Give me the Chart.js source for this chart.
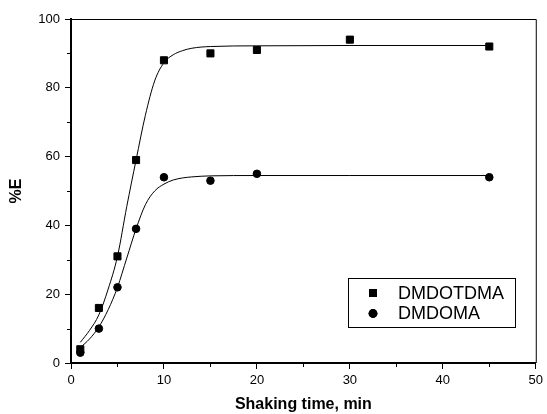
<!DOCTYPE html>
<html>
<head>
<meta charset="utf-8">
<script src="https://cdn.jsdelivr.net/npm/chart.js@4.4.1/dist/chart.umd.min.js"></script>
<style>
   html, body { margin: 0; padding: 0; background: #fff; }
</style>
</head>
<body>
<canvas id="myChart" width="547" height="414"></canvas>
<script>
// measured points
var timeA = [1, 3, 5, 7, 10, 15, 20, 30, 45];
var dmdotdma = [4, 16, 31, 59, 88, 90, 91, 94, 92];
var timeB = [1, 3, 5, 7, 10, 15, 20, 45];
var dmdoma = [3, 10, 22, 39, 54, 53, 55, 54];

// fitted curves
var fitTime = [1, 2, 3, 4, 5, 6, 7, 8, 9, 10, 11, 12, 13, 15, 20, 30, 45];
var fitDmdotdma = [6, 9.5, 14, 21.5, 31, 45.5, 59, 72, 82, 87.3, 89.6, 90.8, 91.5, 92, 92.2, 92.3, 92.3];
var fitDmdoma = [4.5, 7, 10.5, 15.5, 22, 30.5, 39, 46, 50, 52, 53.2, 53.8, 54.1, 54.4, 54.5, 54.5, 54.5];

var xTicks = [0, 10, 20, 30, 40, 50];
var xMinor = [5, 15, 25, 35, 45];
var yTicks = [0, 20, 40, 60, 80, 100];
var yMinor = [10, 30, 50, 70, 90];

function pts(xs, ys) {
   return xs.map(function(x, i) { return {x: x, y: ys[i]}; });
}

Chart.defaults.font.family = "'Liberation Sans', Arial, sans-serif";
Chart.defaults.color = '#000';

var frame = {
   id: 'frame',
   afterDraw: function(c) {
      var ctx = c.ctx, a = c.chartArea;
      var sx = c.scales.x, sy = c.scales.y;
      ctx.save();
      ctx.strokeStyle = '#000';
      ctx.lineWidth = 1;
      ctx.beginPath();
      ctx.moveTo(a.left, a.top + 0.5);
      ctx.lineTo(a.right + 0.5, a.top + 0.5);
      ctx.lineTo(a.right + 0.5, a.bottom);
      ctx.stroke();
      // minor ticks
      ctx.beginPath();
      xMinor.forEach(function(v) {
         var p = Math.round(sx.getPixelForValue(v)) + 0.5;
         ctx.moveTo(p, a.bottom);
         ctx.lineTo(p, a.bottom + 4);
      });
      yMinor.forEach(function(v) {
         var p = Math.round(sy.getPixelForValue(v)) + 0.5;
         ctx.moveTo(a.left, p);
         ctx.lineTo(a.left - 4, p);
      });
      ctx.stroke();

      // legend box
      var bx = 348, by = 278, bw = 167, bh = 49;
      ctx.strokeRect(bx + 0.5, by + 0.5, bw, bh);
      var items = c.data.datasets.filter(function(d) { return d.inLegend; });
      ctx.font = "18px 'Liberation Sans', Arial, sans-serif";
      ctx.textBaseline = 'middle';
      ctx.fillStyle = '#000';
      items.forEach(function(d, i) {
         var my = by + 15 + i * 20.5;
         Chart.helpers.drawPoint(ctx, {pointStyle: d.pointStyle, radius: d.pointRadius + 0.6, borderWidth: 0}, bx + 25, my);
         ctx.fill();
         ctx.fillText(d.label, bx + 50, my + 1);
      });
      ctx.restore();
   }
};

var ctx = document.getElementById('myChart').getContext('2d');
var chart = new Chart(ctx, {
   type: 'scatter',
   data: {
      datasets: [{
         label: 'DMDOTDMA',
         inLegend: true,
         data: pts(timeA, dmdotdma),
         pointStyle: 'rect',
         pointRadius: 5,
         backgroundColor: '#000',
         borderColor: '#000',
         borderWidth: 1,
         showLine: false
      }, {
         label: 'DMDOMA',
         inLegend: true,
         data: pts(timeB, dmdoma),
         pointStyle: 'circle',
         pointRadius: 3.8,
         backgroundColor: '#000',
         borderColor: '#000',
         borderWidth: 1,
         showLine: false
      }, {
         label: 'fit1',
         data: pts(fitTime, fitDmdotdma),
         showLine: true,
         pointRadius: 0,
         borderColor: '#000',
         borderWidth: 1,
         cubicInterpolationMode: 'monotone'
      }, {
         label: 'fit2',
         data: pts(fitTime, fitDmdoma),
         showLine: true,
         pointRadius: 0,
         borderColor: '#000',
         borderWidth: 1,
         cubicInterpolationMode: 'monotone'
      }]
   },
   options: {
      responsive: false,
      animation: false,
      layout: { padding: { top: 19, right: 7, left: 0, bottom: 0 } },
      plugins: {
         legend: { display: false },
         tooltip: { enabled: false }
      },
      scales: {
         x: {
            type: 'linear',
            min: 0,
            max: 50,
            afterBuildTicks: function(s) { s.ticks = xTicks.map(function(v) { return {value: v}; }); },
            afterFit: function(s) { s.height = 51; },
            ticks: { font: { size: 13 }, padding: 4, color: '#000' },
            grid: { drawOnChartArea: false, tickLength: 6, color: '#000', lineWidth: 1 },
            border: { display: true, width: 2, color: '#000' },
            title: { display: true, text: 'Shaking time, min', font: { size: 16, weight: 'bold' }, padding: { top: 0, bottom: 0 }, color: '#000' }
         },
         y: {
            type: 'linear',
            min: 0,
            max: 100,
            afterBuildTicks: function(s) { s.ticks = yTicks.map(function(v) { return {value: v}; }); },
            afterFit: function(s) { s.width = 71; },
            ticks: { font: { size: 13 }, padding: 5, color: '#000' },
            grid: { drawOnChartArea: false, tickLength: 6, color: '#000', lineWidth: 1 },
            border: { display: true, width: 2, color: '#000' },
            title: { display: true, text: '%E', font: { size: 16, weight: 'bold' }, padding: { top: 7, bottom: 0 }, color: '#000' }
         }
      }
   },
   plugins: [frame]
});
</script>
</body>
</html>
